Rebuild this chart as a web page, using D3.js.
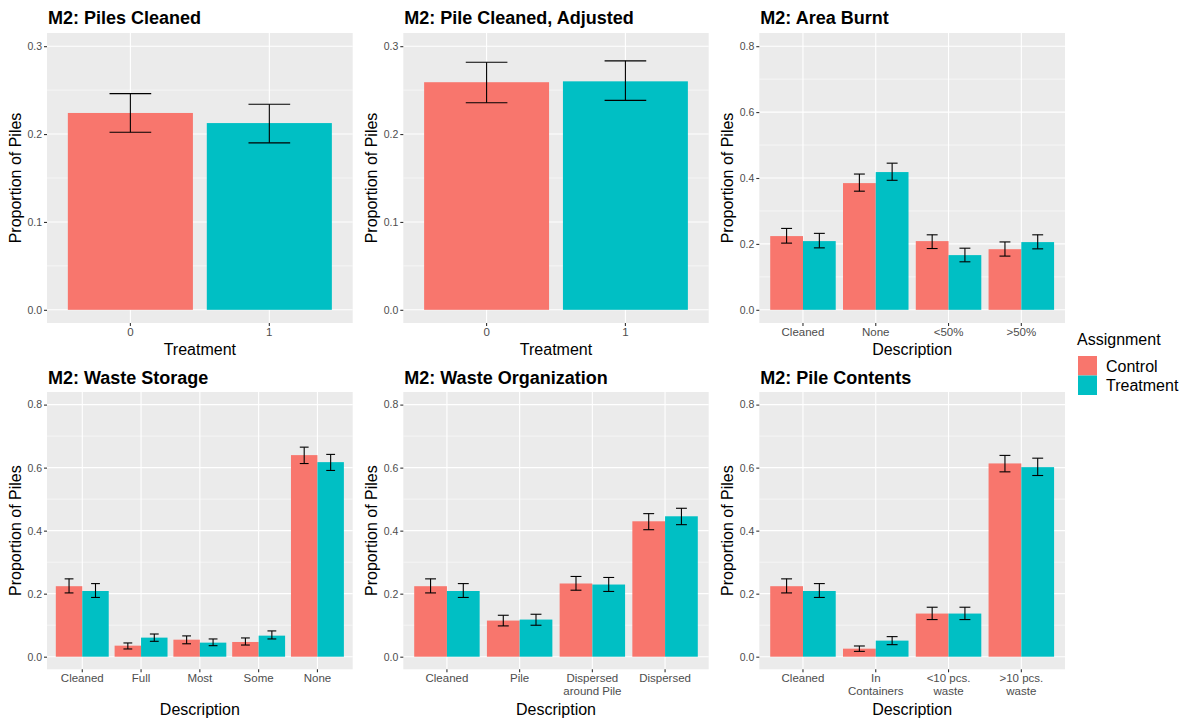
<!DOCTYPE html>
<html>
<head>
<meta charset="utf-8">
<script src="https://cdn.jsdelivr.net/npm/d3@7"></script>
<style>
  body { margin: 0; background: #ffffff; }
  svg, svg text { font-family: "Liberation Sans", Arial, Helvetica, sans-serif; }
</style>
</head>
<body>
<div id="chart"></div>
<script>
// ---- data ----
var assignments = ["Control", "Treatment"];
var colors = ["#F8766D", "#00BFC4"];

var treatmentCats = ["0", "1"];
var cleanedProp = [0.224, 0.2125];
var cleanedLo = [0.202, 0.190];
var cleanedHi = [0.246, 0.234];

var adjustedProp = [0.259, 0.260];
var adjustedLo = [0.2356, 0.2383];
var adjustedHi = [0.2818, 0.2833];

var burntCats = ["Cleaned", "None", "<50%", ">50%"];
var burntControl = [0.2237, 0.3845, 0.2085, 0.184];
var burntControlLo = [0.2024, 0.360, 0.186, 0.163];
var burntControlHi = [0.247, 0.412, 0.2276, 0.206];
var burntTreatment = [0.2085, 0.418, 0.166, 0.2055];
var burntTreatmentLo = [0.188, 0.393, 0.1457, 0.185];
var burntTreatmentHi = [0.232, 0.445, 0.187, 0.2276];

var storageCats = ["Cleaned", "Full", "Most", "Some", "None"];
var storageControl = [0.2237, 0.035, 0.054, 0.0467, 0.6397];
var storageControlLo = [0.2024, 0.0245, 0.041, 0.037, 0.613];
var storageControlHi = [0.247, 0.0436, 0.066, 0.0595, 0.665];
var storageTreatment = [0.2085, 0.0605, 0.0446, 0.0668, 0.6174];
var storageTreatmentLo = [0.188, 0.0488, 0.035, 0.0563, 0.591];
var storageTreatmentHi = [0.232, 0.072, 0.0563, 0.0818, 0.642];

var orgCats = ["Cleaned", "Pile", "Dispersed\naround Pile", "Dispersed"];
var orgControl = [0.2237, 0.1146, 0.2323, 0.4297];
var orgControlLo = [0.2024, 0.0977, 0.211, 0.403];
var orgControlHi = [0.247, 0.1315, 0.2546, 0.454];
var orgTreatment = [0.2085, 0.1178, 0.229, 0.4456];
var orgTreatmentLo = [0.188, 0.0998, 0.207, 0.419];
var orgTreatmentHi = [0.232, 0.1347, 0.2514, 0.471];

var contentsCats = ["Cleaned", "In\nContainers", "<10 pcs.\nwaste", ">10 pcs.\nwaste"];
var contentsControl = [0.2237, 0.0255, 0.1369, 0.6133];
var contentsControlLo = [0.2024, 0.0169, 0.1178, 0.5866];
var contentsControlHi = [0.247, 0.034, 0.157, 0.6388];
var contentsTreatment = [0.2085, 0.051, 0.1369, 0.6015];
var contentsTreatmentLo = [0.188, 0.0382, 0.1178, 0.575];
var contentsTreatmentHi = [0.232, 0.0637, 0.157, 0.630];

var smallTicks = [0, 0.1, 0.2, 0.3];
var smallMinor = [0.05, 0.15, 0.25];
var largeTicks = [0, 0.2, 0.4, 0.6, 0.8];
var largeMinor = [0.1, 0.3, 0.5, 0.7];

// ---- layout ----
var svgWidth = 1188, svgHeight = 721;
var cols = [[47, 352.7], [403.3, 708.7], [759.3, 1065]];
var rows = [[33, 323], [392, 669.3]];
var xTitleY = [355, 715];
var titleY = [24, 384];

var svg = d3.select("#chart")
  .append("svg")
  .attr("width", svgWidth)
  .attr("height", svgHeight);

// turn one series set into rows that the drawing code can use
function single(cats, prop, lo, hi) {
  return cats.map(function(c, i) {
    return { cat: c, group: assignments[i], value: prop[i], lo: lo[i], hi: hi[i], fill: colors[i] };
  });
}
function grouped(cats, cv, cl, ch, tv, tl, th) {
  var out = [];
  cats.forEach(function(c, i) {
    out.push({ cat: c, group: "Control", value: cv[i], lo: cl[i], hi: ch[i], fill: colors[0] });
    out.push({ cat: c, group: "Treatment", value: tv[i], lo: tl[i], hi: th[i], fill: colors[1] });
  });
  return out;
}

var panels = [
  { title: "M2: Piles Cleaned", col: 0, row: 0, cats: treatmentCats, dodge: false, xTitle: "Treatment",
    ymax: 0.3, ticks: smallTicks, minor: smallMinor, data: single(treatmentCats, cleanedProp, cleanedLo, cleanedHi) },
  { title: "M2: Pile Cleaned, Adjusted", col: 1, row: 0, cats: treatmentCats, dodge: false, xTitle: "Treatment",
    ymax: 0.3, ticks: smallTicks, minor: smallMinor, data: single(treatmentCats, adjustedProp, adjustedLo, adjustedHi) },
  { title: "M2: Area Burnt", col: 2, row: 0, cats: burntCats, dodge: true, xTitle: "Description",
    ymax: 0.8, ticks: largeTicks, minor: largeMinor,
    data: grouped(burntCats, burntControl, burntControlLo, burntControlHi, burntTreatment, burntTreatmentLo, burntTreatmentHi) },
  { title: "M2: Waste Storage", col: 0, row: 1, cats: storageCats, dodge: true, xTitle: "Description",
    ymax: 0.8, ticks: largeTicks, minor: largeMinor,
    data: grouped(storageCats, storageControl, storageControlLo, storageControlHi, storageTreatment, storageTreatmentLo, storageTreatmentHi) },
  { title: "M2: Waste Organization", col: 1, row: 1, cats: orgCats, dodge: true, xTitle: "Description",
    ymax: 0.8, ticks: largeTicks, minor: largeMinor,
    data: grouped(orgCats, orgControl, orgControlLo, orgControlHi, orgTreatment, orgTreatmentLo, orgTreatmentHi) },
  { title: "M2: Pile Contents", col: 2, row: 1, cats: contentsCats, dodge: true, xTitle: "Description",
    ymax: 0.8, ticks: largeTicks, minor: largeMinor,
    data: grouped(contentsCats, contentsControl, contentsControlLo, contentsControlHi, contentsTreatment, contentsTreatmentLo, contentsTreatmentHi) }
];

panels.forEach(drawPanel);

function drawPanel(p) {
  var left = cols[p.col][0], right = cols[p.col][1];
  var top = rows[p.row][0], bottom = rows[p.row][1];
  var g = svg.append("g");

  // ggplot style: 0.6 units of padding on a discrete axis, 5% on a continuous one
  var x = d3.scaleBand()
    .domain(p.cats)
    .range([left, right])
    .paddingInner(0)
    .paddingOuter(0.1);
  var unit = x.step();
  var pad = p.ymax * 0.05;
  var y = d3.scaleLinear()
    .domain([-pad, p.ymax + pad])
    .range([bottom, top]);

  var center = function(c) { return x(c) + unit / 2; };

  // inner scale for the dodged bars
  var xInner = d3.scaleBand()
    .domain(p.dodge ? assignments : ["all"])
    .range([-0.45 * unit, 0.45 * unit]);

  // panel background and grid
  g.append("rect")
    .attr("x", left).attr("y", top)
    .attr("width", right - left).attr("height", bottom - top)
    .attr("fill", "#EBEBEB");

  g.selectAll(".minor")
    .data(p.minor)
    .enter()
    .append("line")
    .attr("x1", left).attr("x2", right)
    .attr("y1", d => y(d)).attr("y2", d => y(d))
    .attr("stroke", "#ffffff")
    .attr("stroke-width", 0.55);

  g.selectAll(".major")
    .data(p.ticks)
    .enter()
    .append("line")
    .attr("x1", left).attr("x2", right)
    .attr("y1", d => y(d)).attr("y2", d => y(d))
    .attr("stroke", "#ffffff")
    .attr("stroke-width", 1.1);

  g.selectAll(".vgrid")
    .data(p.cats)
    .enter()
    .append("line")
    .attr("x1", d => center(d)).attr("x2", d => center(d))
    .attr("y1", top).attr("y2", bottom)
    .attr("stroke", "#ffffff")
    .attr("stroke-width", 1.1);

  // bars
  g.selectAll(".bar")
    .data(p.data)
    .enter()
    .append("rect")
    .attr("x", d => center(d.cat) + xInner(p.dodge ? d.group : "all"))
    .attr("width", xInner.bandwidth())
    .attr("y", d => y(d.value))
    .attr("height", d => y(0) - y(d.value))
    .attr("fill", d => d.fill);

  // error bars
  var errW = p.dodge ? 0.15 * unit : 0.3 * unit;
  var errX = function(d) { return center(d.cat) + xInner(p.dodge ? d.group : "all") + xInner.bandwidth() / 2; };
  var eb = g.selectAll(".err")
    .data(p.data)
    .enter()
    .append("g")
    .attr("stroke", "#000000")
    .attr("stroke-width", 1.1)
    .attr("fill", "none");
  eb.append("line")
    .attr("x1", errX).attr("x2", errX)
    .attr("y1", d => y(d.lo)).attr("y2", d => y(d.hi));
  eb.append("line")
    .attr("x1", d => errX(d) - errW / 2).attr("x2", d => errX(d) + errW / 2)
    .attr("y1", d => y(d.lo)).attr("y2", d => y(d.lo));
  eb.append("line")
    .attr("x1", d => errX(d) - errW / 2).attr("x2", d => errX(d) + errW / 2)
    .attr("y1", d => y(d.hi)).attr("y2", d => y(d.hi));

  // axes
  var leftAxis = d3.axisLeft(y)
    .tickValues(p.ticks)
    .tickFormat(d3.format(".1f"))
    .tickSize(3)
    .tickPadding(2);
  var yAxisG = g.append("g")
    .attr("transform", `translate(${left}, 0)`)
    .call(leftAxis)
    .attr("font-family", null)
    .attr("font-size", null);
  yAxisG.select(".domain").remove();
  yAxisG.selectAll("line").attr("stroke", "#333333").attr("stroke-width", 1.1);
  yAxisG.selectAll("text")
    .attr("fill", "#4D4D4D")
    .attr("font-size", "10.5px");

  var bottomAxis = d3.axisBottom(x)
    .tickSize(3)
    .tickPadding(2);
  var xAxisG = g.append("g")
    .attr("transform", `translate(0, ${bottom})`)
    .call(bottomAxis)
    .attr("font-family", null)
    .attr("font-size", null);
  xAxisG.select(".domain").remove();
  xAxisG.selectAll("line").attr("stroke", "#333333").attr("stroke-width", 1.1);
  xAxisG.selectAll("text")
    .attr("fill", "#4D4D4D")
    .attr("font-size", "11.5px")
    .each(function(d) {
      var lines = d.split("\n");
      var t = d3.select(this).text(null);
      lines.forEach(function(l, i) {
        t.append("tspan")
          .attr("x", 0)
          .attr("dy", i === 0 ? "0.71em" : "1.1em")
          .text(l);
      });
    })
    .attr("dy", null);

  // titles
  g.append("text")
    .attr("x", left + 1)
    .attr("y", titleY[p.row])
    .attr("font-size", "18px")
    .attr("font-weight", "bold")
    .attr("fill", "#000000")
    .text(p.title);

  g.append("text")
    .attr("x", (left + right) / 2)
    .attr("y", xTitleY[p.row])
    .attr("text-anchor", "middle")
    .attr("font-size", "16px")
    .attr("fill", "#000000")
    .text(p.xTitle);

  g.append("text")
    .attr("transform", `translate(${left - 26}, ${(top + bottom) / 2}) rotate(-90)`)
    .attr("text-anchor", "middle")
    .attr("font-size", "16px")
    .attr("fill", "#000000")
    .text("Proportion of Piles");
}

// legend
var legend = svg.append("g");
legend.append("text")
  .attr("x", 1077)
  .attr("y", 345)
  .attr("font-size", "16px")
  .attr("fill", "#000000")
  .text("Assignment");

var keys = legend.selectAll(".key")
  .data(assignments)
  .enter()
  .append("g")
  .attr("transform", (d, i) => `translate(1078, ${356 + i * 19.5})`);
keys.append("rect")
  .attr("width", 19)
  .attr("height", 19.5)
  .attr("fill", (d, i) => colors[i]);
keys.append("text")
  .attr("x", 28)
  .attr("y", 15.5)
  .attr("font-size", "16px")
  .attr("fill", "#000000")
  .text(d => d);
</script>
</body>
</html>
